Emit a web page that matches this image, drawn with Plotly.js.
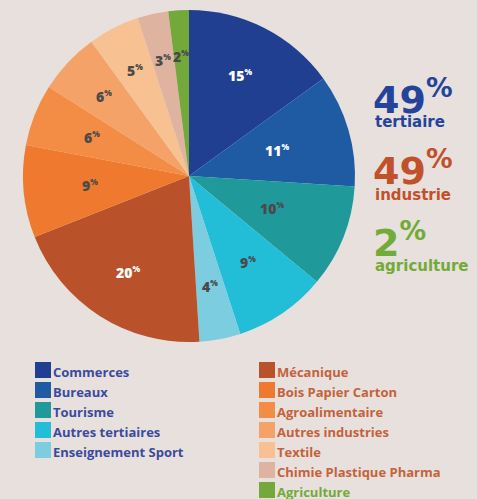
<!DOCTYPE html>
<html>
<head>
<meta charset="utf-8">
<script src="https://cdn.plot.ly/plotly-3.0.1.min.js"></script>
<style>html,body{margin:0;padding:0;background:#e7e0dd;}</style>
</head>
<body>
<div id="chart" style="width:477px;height:499px;"></div>
<script>
// ---- data ----
const categories = ["Commerces","Bureaux","Tourisme","Autres tertiaires","Enseignement Sport",
  "Mécanique","Bois Papier Carton","Agroalimentaire","Autres industries","Textile","Chimie Plastique Pharma","Agriculture"];
const values = [15, 11, 10, 9, 4, 20, 9, 6, 6, 5, 3, 2];
const groups = ["tertiaire","tertiaire","tertiaire","tertiaire","tertiaire",
  "industrie","industrie","industrie","industrie","industrie","industrie","agriculture"];
const groupNames = ["tertiaire","industrie","agriculture"];

// ---- styles ----
const sliceColors = ["#213f91","#1f5ba3","#20999b","#22bdd7","#7dcde1",
  "#b9512b","#ef7a2f","#f38c44","#f4a268","#f7c191","#deb4a0","#72a93a"];
const labelColors = ["#ffffff","#ffffff","#4a4a4a","#4a4a4a","#4a4a4a",
  "#ffffff","#4a4a4a","#4a4a4a","#4a4a4a","#4a4a4a","#4a4a4a","#4a4a4a"];
// radial position of each slice label, as a fraction of the radius
const labelRadius = [0.68, 0.55, 0.54, 0.63, 0.68, 0.69, 0.60, 0.63, 0.70, 0.71, 0.71, 0.72];
const groupColors = {tertiaire:"#23449a", industrie:"#c0512b", agriculture:"#72ab38"};
const legendTextColors = {tertiaire:"#3b4a9e", industrie:"#c4623a", agriculture:"#72ab38"};

const W = 477, H = 499;
const px = x => x / W;
const py = y => 1 - y / H;

// pie geometry (pixels)
const CX = 189, CY = 176, R = 166;

const trace = {
  type: "pie",
  labels: categories,
  values: values,
  sort: false,
  direction: "clockwise",
  rotation: 0,
  marker: {colors: sliceColors, line: {width: 0}},
  textinfo: "none",
  hoverinfo: "label+percent",
  showlegend: false,
  domain: {x: [px(CX - R), px(CX + R)], y: [py(CY + R), py(CY - R)]}
};

const annotations = [];
const shapes = [];

// slice labels, placed at each slice's mid angle
const total = values.reduce((a, b) => a + b, 0);
let cum = 0;
values.forEach((v, i) => {
  const mid = (cum + v / 2) / total * 2 * Math.PI;
  cum += v;
  const r = R * labelRadius[i];
  annotations.push({
    xref: "paper", yref: "paper",
    x: px(CX + r * Math.sin(mid)), y: py(CY - r * Math.cos(mid)),
    xanchor: "center", yanchor: "middle", showarrow: false,
    text: v + "<sup><span style='font-size:8px'>%</span></sup>",
    font: {family: "Open Sans, sans-serif", size: 14, color: labelColors[i], weight: 800}
  });
});

// group totals on the right
const totalsY = [[97, 122], [168, 195], [240, 266]];
groupNames.forEach((g, i) => {
  const t = values.reduce((s, v, k) => s + (groups[k] === g ? v : 0), 0);
  annotations.push({
    xref: "paper", yref: "paper", x: px(371), y: py(totalsY[i][0]),
    xanchor: "left", yanchor: "middle", showarrow: false,
    text: t + "<sup>%</sup>",
    font: {family: "DejaVu Sans, sans-serif", size: 38, color: groupColors[g], weight: 700}
  });
  annotations.push({
    xref: "paper", yref: "paper", x: px(373), y: py(totalsY[i][1]),
    xanchor: "left", yanchor: "middle", showarrow: false,
    text: g,
    font: {family: "DejaVu Sans, sans-serif", size: 15, color: groupColors[g], weight: 700}
  });
});

// custom two-column legend
let rowL = 0, rowR = 0;
categories.forEach((c, i) => {
  const left = groups[i] === "tertiaire";
  const row = left ? rowL++ : rowR++;
  const x0 = left ? 35 : 259;
  const y0 = 362 + row * 20;
  shapes.push({type: "rect", xref: "paper", yref: "paper",
    x0: px(x0), x1: px(x0 + 16), y0: py(y0 + 16), y1: py(y0),
    fillcolor: sliceColors[i], line: {width: 0}});
  annotations.push({
    xref: "paper", yref: "paper", x: px(x0 + 16), y: py(y0 + 10),
    xanchor: "left", yanchor: "middle", showarrow: false,
    text: c,
    font: {family: "Open Sans, sans-serif", size: 13, color: legendTextColors[groups[i]], weight: 700}
  });
});

const layout = {
  width: W, height: H,
  margin: {l: 0, r: 0, t: 0, b: 0},
  paper_bgcolor: "#e7e0dd",
  plot_bgcolor: "#e7e0dd",
  showlegend: false,
  annotations: annotations,
  shapes: shapes
};

Plotly.newPlot("chart", [trace], layout, {displayModeBar: false, staticPlot: true});
</script>
</body>
</html>
